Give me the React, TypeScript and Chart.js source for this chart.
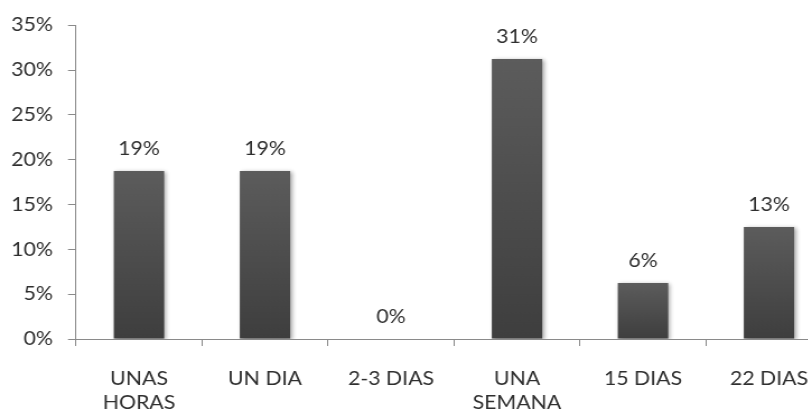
import React, { useEffect, useRef } from "react";
import { Chart, registerables } from "chart.js";

Chart.register(...registerables);

// Response share per waiting period (percent)
const categories: (string | string[])[] = [
  ["UNAS", "HORAS"],
  "UN DIA",
  "2-3 DIAS",
  ["UNA", "SEMANA"],
  "15 DIAS",
  "22 DIAS",
];
const percentages = [18.75, 18.75, 0, 31.25, 6.25, 12.5];
const yMin = 0;
const yMax = 35;
const yStep = 5;

// The drawing is rendered narrower and stretched horizontally
const STRETCH = 1.12;
const VIEW_W = 840; // plot runs a little past the right edge of the frame
const CANVAS_W = Math.round(VIEW_W / STRETCH);
const CANVAS_H = 412;
const FONT = { family: "Lato", size: 19, lineHeight: 1.26 };
const TEXT_COLOR = "#2f2f2f";
const AXIS_COLOR = "#8a8a8a";

const valueLabelPlugin = {
  id: "valueLabels",
  beforeDatasetsDraw(chart: any) {
    const c = chart.ctx;
    c.save();
    c.shadowColor = "rgba(0,0,0,0.35)";
    c.shadowBlur = 4;
    c.shadowOffsetX = 1.5;
    c.shadowOffsetY = 1.5;
  },
  afterDatasetsDraw(chart: any) {
    const c = chart.ctx;
    c.restore();
    const meta = chart.getDatasetMeta(0);
    c.save();
    c.font = `${FONT.size}px ${FONT.family}`;
    c.fillStyle = TEXT_COLOR;
    c.textAlign = "center";
    c.textBaseline = "alphabetic";
    meta.data.forEach((bar: any, i: number) => {
      const v = chart.data.datasets[0].data[i] as number;
      c.fillText(`${Math.round(v)}%`, bar.x, bar.y - 16);
    });
    c.restore();
  },
};

export default function App() {
  const ref = useRef<HTMLCanvasElement | null>(null);

  useEffect(() => {
    if (!ref.current) return;
    const chart = new Chart(ref.current, {
      type: "bar",
      data: {
        labels: categories,
        datasets: [
          {
            data: percentages,
            backgroundColor: (ctx: any) => {
              const ch = ctx.chart;
              const y = ch.scales && ch.scales.y;
              if (!y || !ch.chartArea || ctx.raw === undefined) return "#505050";
              const top = y.getPixelForValue(ctx.raw);
              const bottom = y.getPixelForValue(0);
              if (bottom - top < 1) return "#505050";
              const g = ch.ctx.createLinearGradient(0, top, 0, bottom);
              g.addColorStop(0, "#5c5c5c");
              g.addColorStop(1, "#3e3e3e");
              return g;
            },
            borderWidth: 0,
            barPercentage: 0.4,
            categoryPercentage: 1,
          },
        ],
      },
      options: {
        responsive: false,
        animation: false,
        layout: {
          padding: { top: 21, right: (VIEW_W - 832) / STRETCH, left: 0, bottom: 0 },
        },
        plugins: {
          legend: { display: false },
          tooltip: { enabled: false },
        },
        scales: {
          x: {
            grid: {
              offset: true,
              drawOnChartArea: false,
              drawTicks: true,
              tickLength: 7,
              color: AXIS_COLOR,
            },
            border: { color: AXIS_COLOR },
            ticks: {
              font: FONT,
              color: TEXT_COLOR,
              padding: 21,
              maxRotation: 0,
              autoSkip: false,
            },
            afterFit: (scale: any) => {
              scale.height = 73;
            },
          },
          y: {
            min: yMin,
            max: yMax,
            grid: {
              drawOnChartArea: false,
              drawTicks: true,
              tickLength: 8 / STRETCH,
              color: AXIS_COLOR,
            },
            border: { color: AXIS_COLOR },
            ticks: {
              stepSize: yStep,
              font: FONT,
              color: TEXT_COLOR,
              padding: 15 / STRETCH,
              callback: (v: any) => `${v}%`,
            },
            afterFit: (scale: any) => {
              scale.width = 76 / STRETCH;
            },
          },
        },
      },
      plugins: [valueLabelPlugin],
    });
    return () => chart.destroy();
  }, []);

  return (
    <div
      style={{
        position: "fixed",
        left: 0,
        top: 0,
        width: 808,
        height: 412,
        overflow: "hidden",
        background: "#ffffff",
      }}
    >
      <canvas
        ref={ref}
        width={CANVAS_W}
        height={CANVAS_H}
        style={{
          display: "block",
          width: CANVAS_W,
          height: CANVAS_H,
          transform: `scaleX(${STRETCH})`,
          transformOrigin: "0 0",
        }}
      />
    </div>
  );
}
